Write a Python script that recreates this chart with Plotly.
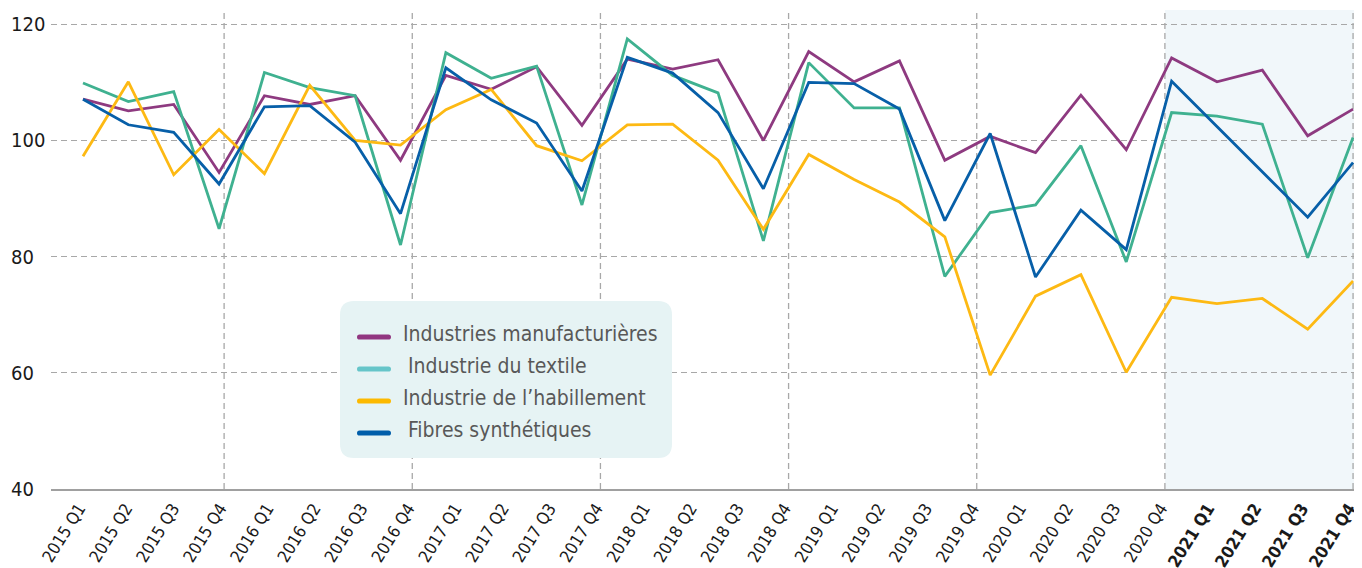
import plotly.graph_objects as go

# ---------------- data ----------------
quarters = ["2015 Q1", "2015 Q2", "2015 Q3", "2015 Q4",
            "2016 Q1", "2016 Q2", "2016 Q3", "2016 Q4",
            "2017 Q1", "2017 Q2", "2017 Q3", "2017 Q4",
            "2018 Q1", "2018 Q2", "2018 Q3", "2018 Q4",
            "2019 Q1", "2019 Q2", "2019 Q3", "2019 Q4",
            "2020 Q1", "2020 Q2", "2020 Q3", "2020 Q4",
            "2021 Q1", "2021 Q2", "2021 Q3", "2021 Q4"]
bold_quarters = ["2021 Q1", "2021 Q2", "2021 Q3", "2021 Q4"]

manufacturieres = [107.1, 105.1, 106.2, 94.5, 107.7, 106.2, 107.7, 96.6, 111.2,
                   108.8, 112.7, 102.6, 114.0, 112.3, 113.9, 100.0, 115.3, 110.1,
                   113.7, 96.6, 100.7, 97.9, 107.8, 98.4, 114.2, 110.1, 112.1,
                   100.8, 105.4]
textile = [109.9, 106.7, 108.4, 84.8, 111.7, 109.1, 107.7, 82.0, 115.1,
           110.7, 112.8, 88.9, 117.5, 111.2, 108.2, 82.7, 113.4, 105.6,
           105.6, 76.6, 87.6, 88.9, 99.1, 79.1, 104.8, 104.2, 102.8,
           79.8, 100.5]
habillement = [97.3, 110.1, 94.1, 101.9, 94.3, 109.5, 100.0, 99.2, 105.3,
               108.8, 99.1, 96.5, 102.7, 102.8, 96.6, 84.7, 97.6, 93.3,
               89.4, 83.4, 59.6, 73.2, 76.9, 60.1, 73.0, 71.9, 72.8,
               67.5, 75.8]
fibres = [107.1, 102.7, 101.4, 92.5, 105.8, 106.0, 99.7, 87.4, 112.5,
          107.0, 103.0, 91.3, 114.3, 111.6, 104.8, 91.7, 110.0, 109.8,
          105.4, 86.2, 101.2, 76.5, 88.0, 81.2, 110.2, 102.4, 94.6,
          86.8, 96.2]

series_names = ["Industries manufacturières", "Industrie du textile",
                "Industrie de l’habillement", "Fibres synthétiques"]
y_ticks = [40, 60, 80, 100, 120]
year_end_ticks = [3, 7, 11, 15, 19, 23, 27]
shade_start = 23

# ---------------- styles ----------------
line_colors = ["#8e3a80", "#3fb190", "#fdb913", "#075fa8"]
legend_colors = ["#913680", "#66c5c9", "#fcb900", "#005eaa"]
FONT = "DejaVu Sans Condensed, Liberation Sans Narrow, sans-serif"

OFF = 8  # default page body margin
W, H = 1362 - OFF, 568 - OFF
ML, MR, MT, MB = 51 - OFF, 0, 10 - OFF, 79
PW, PH = W - ML - MR, H - MT - MB


def px2x(px):
    return (px - OFF - ML) / PW


def py2y(py):
    return (H - MB - (py - OFF)) / PH


n_cat = len(quarters)
n_pts = len(manufacturieres)
point_x = [i * (n_cat - 1) / (n_pts - 1) for i in range(n_pts)]

fig = go.Figure()
for name, vals, col in zip(series_names,
                           [manufacturieres, textile, habillement, fibres],
                           line_colors):
    fig.add_trace(go.Scatter(x=point_x, y=vals, mode="lines", name=name,
                             line=dict(color=col, width=2.8),
                             showlegend=False))

shapes = []
shapes.append(dict(type="rect", xref="x", yref="paper", x0=shade_start,
                   x1=27.3, y0=0, y1=1, fillcolor="#f1f7fa",
                   line=dict(width=0), layer="below"))
for xv in year_end_ticks:
    shapes.append(dict(type="line", xref="x", yref="paper", x0=xv, x1=xv,
                       y0=0, y1=1, layer="below",
                       line=dict(color="#a8a8a8", width=1.3, dash="6px,4px")))

lx0, lx1, ly0, ly1, r = 340, 672, 301, 458, 14
rx, ry = r / PW, r / PH
X0, X1, Y0, Y1 = px2x(lx0), px2x(lx1), py2y(ly1), py2y(ly0)
path = (f"M{X0+rx},{Y0} L{X1-rx},{Y0} Q{X1},{Y0} {X1},{Y0+ry} "
        f"L{X1},{Y1-ry} Q{X1},{Y1} {X1-rx},{Y1} L{X0+rx},{Y1} "
        f"Q{X0},{Y1} {X0},{Y1-ry} L{X0},{Y0+ry} Q{X0},{Y0} {X0+rx},{Y0} Z")
shapes.append(dict(type="path", xref="paper", yref="paper", path=path,
                   fillcolor="#e6f3f4", line=dict(width=0), layer="above"))

annotations = []
row_y = [337, 369, 401, 433]
text_dx = [0, 5, 0, 5]
for yy, col, name, dx in zip(row_y, legend_colors, series_names, text_dx):
    sx0, sx1, hh = px2x(357), px2x(391), 2.6
    sy0, sy1 = py2y(yy + hh), py2y(yy - hh)
    ex = hh / PW
    spath = (f"M{sx0+ex},{sy0} L{sx1-ex},{sy0} Q{sx1},{sy0} {sx1},{(sy0+sy1)/2} "
             f"Q{sx1},{sy1} {sx1-ex},{sy1} L{sx0+ex},{sy1} "
             f"Q{sx0},{sy1} {sx0},{(sy0+sy1)/2} Q{sx0},{sy0} {sx0+ex},{sy0} Z")
    shapes.append(dict(type="path", xref="paper", yref="paper", path=spath,
                       fillcolor=col, line=dict(width=0), layer="above"))
    annotations.append(dict(xref="paper", yref="paper", x=px2x(401 + dx),
                            y=py2y(yy - 3), text=name, showarrow=False,
                            xanchor="left", yanchor="middle",
                            font=dict(family=FONT, size=21, color="#585858")))

for v in y_ticks:
    annotations.append(dict(xref="paper", yref="y", x=px2x(9), y=v,
                            text=str(v), showarrow=False, xanchor="left",
                            yanchor="middle",
                            font=dict(family=FONT, size=20, color="#1a1a1a")))

ticktext = [f"<b>{q}</b>" if q in bold_quarters else q for q in quarters]

fig.update_layout(
    width=W, height=H,
    margin=dict(l=ML, r=MR, t=MT, b=MB, autoexpand=False),
    paper_bgcolor="white", plot_bgcolor="white",
    font=dict(family=FONT, color="#1a1a1a"),
    shapes=shapes, annotations=annotations,
    xaxis=dict(range=[-0.68, 27.19], tickmode="array",
               tickvals=list(range(n_cat)), ticktext=ticktext,
               tickangle=-58, showgrid=False, zeroline=False,
               showline=True, linecolor="#a0a0a0", linewidth=1.5,
               ticks="", ticklabelstandoff=1, ticklabelshift=-4,
               automargin=False, ticklabeloverflow="allow",
               tickfont=dict(family=FONT, size=17, color="#1a1a1a")),
    yaxis=dict(range=[40, 122.46], tickmode="array",
               tickvals=[60, 80, 100, 120], showticklabels=False,
               showgrid=True, gridcolor="#a8a8a8", gridwidth=1.3,
               griddash="6px,4px", zeroline=False, showline=False,
               automargin=False),
    showlegend=False,
)

fig.write_html("out.html")
